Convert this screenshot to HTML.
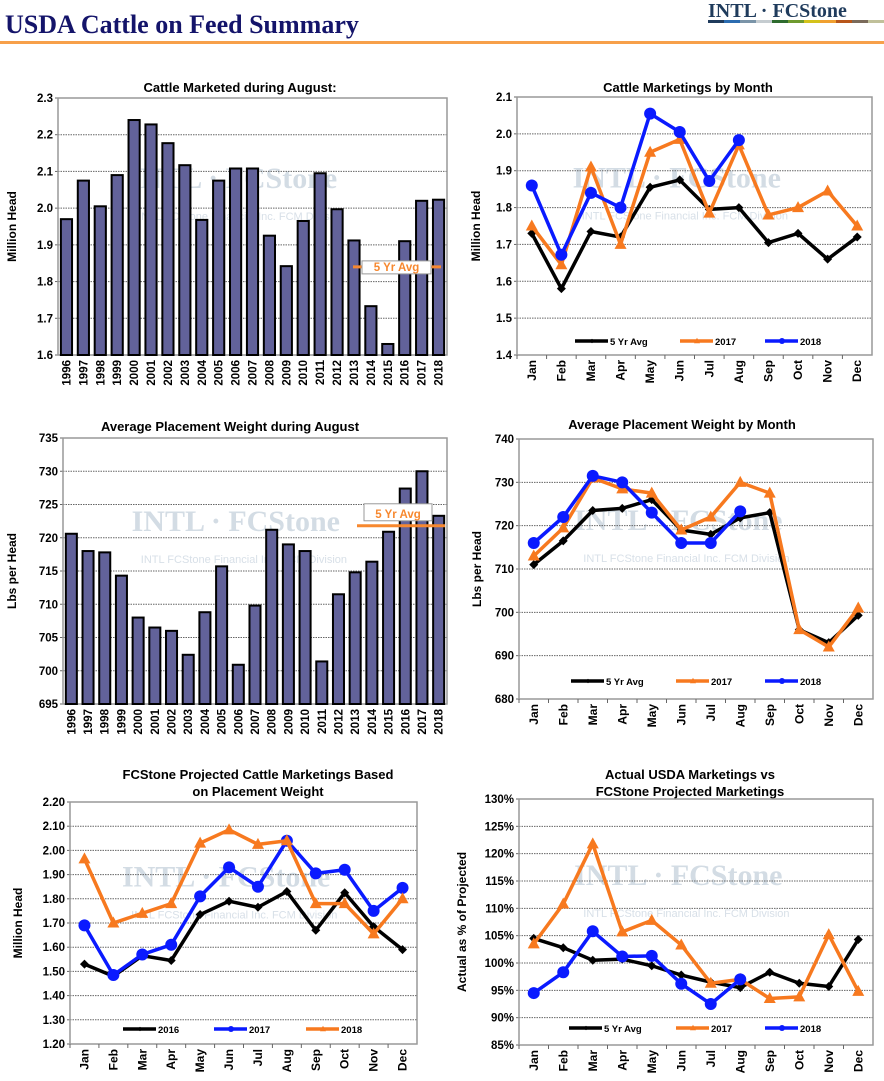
<!DOCTYPE html>
<html><head><meta charset="utf-8">
<style>
body{margin:0;background:#fff;width:884px;height:1076px;overflow:hidden;font-family:"Liberation Sans",Arial,sans-serif}
svg text{font-family:"Liberation Sans",Arial,sans-serif}
</style></head>
<body>
<svg id="s" width="884" height="1076" viewBox="0 0 884 1076" xmlns="http://www.w3.org/2000/svg">
<text x="5" y="33" font-weight="bold" font-size="26" fill="#14146a" style="font-family:'Liberation Serif',serif">USDA Cattle on Feed Summary</text>
<g>
<text x="708" y="17" font-weight="bold" font-size="20" fill="#1f3b5c" style="font-family:'Liberation Serif',serif">INTL · FCStone</text>
<rect x="708" y="20" width="16" height="3" fill="#1f3b5c"/><rect x="724" y="20" width="16" height="3" fill="#2b6cb0"/><rect x="740" y="20" width="16" height="3" fill="#7a94a8"/><rect x="756" y="20" width="16" height="3" fill="#c5ccd0"/><rect x="772" y="20" width="16" height="3" fill="#2e6b2e"/><rect x="788" y="20" width="16" height="3" fill="#6e9a2e"/><rect x="804" y="20" width="16" height="3" fill="#d4c21a"/><rect x="820" y="20" width="16" height="3" fill="#f0a030"/><rect x="836" y="20" width="16" height="3" fill="#b8561a"/><rect x="852" y="20" width="16" height="3" fill="#7a6a5a"/><rect x="868" y="20" width="16" height="3" fill="#c0c09a"/>
</g>
<rect x="0" y="41" width="884" height="3" fill="#f7a04a"/>
</svg>
<script>
const years=['1996','1997','1998','1999','2000','2001','2002','2003','2004','2005','2006','2007','2008','2009','2010','2011','2012','2013','2014','2015','2016','2017','2018'];
const months=['Jan','Feb','Mar','Apr','May','Jun','Jul','Aug','Sep','Oct','Nov','Dec'];
const augMarketed=[1.97,2.075,2.005,2.09,2.24,2.228,2.177,2.117,1.968,2.075,2.108,2.108,1.925,1.842,1.965,2.095,1.997,1.912,1.733,1.63,1.91,2.02,2.023];
const augMarketedAvg=1.84;
const mktAvg5=[1.73,1.58,1.735,1.72,1.855,1.875,1.795,1.80,1.705,1.73,1.66,1.72];
const mkt2017=[1.75,1.645,1.91,1.70,1.95,1.985,1.785,1.97,1.78,1.80,1.845,1.75];
const mkt2018=[1.86,1.672,1.84,1.80,2.055,2.005,1.872,1.983];
const augWeight=[720.6,718,717.8,714.3,708,706.5,706,702.4,708.8,715.7,700.9,709.8,721.2,719,718,701.4,711.5,714.8,716.4,720.9,727.4,730,723.3];
const augWeightAvg=721.8;
const wtAvg5=[711,716.5,723.5,724,726,719,718,721.8,723,696,693,699.3];
const wt2017=[713,719.5,731,728.5,727.5,719,722,730,727.5,696,692,701];
const wt2018=[716,722,731.5,730,723,716,716,723.3];
const proj2016=[1.53,1.48,1.565,1.545,1.735,1.79,1.765,1.83,1.67,1.825,1.685,1.59];
const proj2017=[1.69,1.485,1.57,1.61,1.81,1.93,1.85,2.04,1.905,1.92,1.75,1.845];
const proj2018=[1.965,1.70,1.74,1.78,2.03,2.085,2.025,2.04,1.78,1.78,1.655,1.80];
const pctAvg5=[104.5,102.8,100.5,100.7,99.5,97.8,96.5,95.5,98.3,96.3,95.7,104.3];
const pct2017=[103.5,110.8,121.8,105.7,107.8,103.3,96.3,97,93.5,93.8,105.2,94.8];
const pct2018=[94.5,98.3,105.8,101.2,101.3,96.2,92.5,97];

const NS='http://www.w3.org/2000/svg';
const svg=document.getElementById('s');
function el(tag,attrs,parent,txt){const e=document.createElementNS(NS,tag);for(const k in attrs)e.setAttribute(k,attrs[k]);if(txt!==undefined)e.textContent=txt;(parent||svg).appendChild(e);return e;}

function frame(c,name){
  const g=el('g',{});
  
  
  const ys=v=>c.y1-(v-c.min)/(c.max-c.min)*(c.y1-c.y0);
  const wx=c.x0+(c.x1-c.x0)*0.45,wy=c.y0+(c.y1-c.y0)*0.35;
  const wm=el('text',{x:wx,y:wy,'font-size':30,'font-weight':'bold',fill:'#d3dce4','text-anchor':'middle',style:"font-family:'Liberation Serif',serif"},g,'INTL · FCStone');
  
  
  const wm2=el('text',{x:wx-95,y:wy+32,'font-size':11,fill:'#d8e0e8'},g,'INTL FCStone Financial Inc. FCM Division');
  
  
  const t=el('text',{'font-size':c.titleSize||13,'font-weight':'bold','text-anchor':'middle',fill:'#000'},g);
  
  
  c.title.forEach((ln,i)=>el('tspan',{x:c.tx,y:c.ty+i*17},t,ln));
  for(let v=c.min;v<=c.max+1e-9;v+=c.step){
    const y=ys(v);
    if(v>c.min+1e-9&&v<c.max-1e-9){
      const gl=el('line',{x1:c.x0,x2:c.x1,y1:y,y2:y,stroke:'#666','stroke-width':1,'stroke-dasharray':'1.5,1'},g);
      
      
    }
    const lb=el('text',{x:c.x0-5,y:y+4,'font-size':11.5,'font-weight':'bold','text-anchor':'end'},g,c.fmt(v));
    
    
    el('line',{x1:c.x0-3,x2:c.x0,y1:y,y2:y,stroke:'#666'},g);
  }
  const bd=el('rect',{x:c.x0,y:c.y0,width:c.x1-c.x0,height:c.y1-c.y0,fill:'none',stroke:'#999','stroke-width':1.5},g);
  
  
  const yt=el('text',{transform:`translate(${c.yx},${(c.y0+c.y1)/2}) rotate(-90)`,'font-size':12,'font-weight':'bold','text-anchor':'middle'},g,c.ytitle);
  
  
  const n=c.cats.length,w=(c.x1-c.x0)/n;
  c.cats.forEach((cat,i)=>{
    const cx=c.x0+w*(i+0.5);
    const xl=el('text',{transform:`translate(${cx+4},${c.y1+5}) rotate(-90)`,'font-size':c.catSize||11.5,'font-weight':'bold','text-anchor':'end'},g,cat);
    
    
    if(c.line) el('line',{x1:c.x0+w*i,x2:c.x0+w*i,y1:c.y1,y2:c.y1+4,stroke:'#666'},g);
  });
  return {g,ys,xs:i=>c.x0+w*(i+0.5),w};
}

function barChart(c,vals,avg,box,name){
  const f=frame(c,name);
  vals.forEach((v,i)=>{
    const bw=f.w*0.66,x=f.xs(i)-bw/2,y=f.ys(v);
    const b=el('rect',{x:x,y:y,width:bw,height:c.y1-y,fill:'#62629a',stroke:'#000','stroke-width':2},f.g);
    
    
  });
  const ay=f.ys(avg);
  const al=el('line',{x1:box.lx0,x2:box.lx1,y1:ay,y2:ay,stroke:'#f7882f','stroke-width':3},f.g);
  
  
  const by=ay+box.dy;
  el('rect',{x:box.bx,y:by,width:box.bw,height:box.bh,fill:'#fff',stroke:'#999'},f.g);
  const at=el('text',{x:box.bx+box.bw/2,y:by+box.bh-3,'font-size':11.5,'font-weight':'bold',fill:'#f7882f','text-anchor':'middle'},f.g,'5 Yr Avg');
  
  
}

const styles={black:{col:'#000',mk:'diamond'},orange:{col:'#f7791f',mk:'tri'},blue:{col:'#0a1aff',mk:'circle'}};
function marker(g,type,x,y,col){
  if(type==='diamond') return el('path',{d:`M${x} ${y-4.5}L${x+4.5} ${y}L${x} ${y+4.5}L${x-4.5} ${y}Z`,fill:col},g);
  if(type==='tri') return el('path',{d:`M${x} ${y-6.5}L${x+6} ${y+4.5}L${x-6} ${y+4.5}Z`,fill:col},g);
  return el('circle',{cx:x,cy:y,r:6,fill:col},g);
}
function lineChart(c,series,legY,name){
  c.line=true;
  const f=frame(c,name);
  series.forEach(s=>{
    const st=styles[s.style];
    const sg=el('g',{},f.g);
    
    
    const pts=s.vals.map((v,i)=>f.xs(i)+','+f.ys(v)).join(' ');
    el('polyline',{points:pts,fill:'none',stroke:st.col,'stroke-width':3.5,'stroke-linejoin':'round'},sg);
    s.vals.forEach((v,i)=>{
      const m=marker(sg,st.mk,f.xs(i),f.ys(v),st.col);
      
      
    });
  });
  series.forEach((s,k)=>{
    const st=styles[s.style];
    const lx=c.x0+c.legX[k];
    const lg=el('g',{},f.g);
    
    
    el('line',{x1:lx,x2:lx+33,y1:legY,y2:legY,stroke:st.col,'stroke-width':3.5},lg);
    marker(lg,st.mk,lx+17,legY,st.col).setAttribute('transform',`translate(${(lx+17)*0.5},${legY*0.5}) scale(0.5)`);
    el('text',{x:lx+35,y:legY+4,'font-size':9.5,'font-weight':'bold'},lg,s.label);
  });
}

barChart({x0:58,x1:447,y0:98,y1:355,min:1.6,max:2.3,step:0.1,fmt:v=>v.toFixed(1),cats:years,title:['Cattle Marketed during August:'],tx:240,ty:92,yx:16,ytitle:'Million Head'},
  augMarketed,augMarketedAvg,{lx0:353,lx1:441,bx:362,bw:69,bh:13,dy:-6},'chart-cattle-marketed-august');

lineChart({x0:517,x1:872,y0:97,y1:355,min:1.4,max:2.1,step:0.1,fmt:v=>v.toFixed(1),cats:months,title:['Cattle Marketings by Month'],tx:688,ty:92,yx:480,ytitle:'Million Head',legX:[58,163,248],catSize:12},
  [{label:'5 Yr Avg',vals:mktAvg5,style:'black'},{label:'2017',vals:mkt2017,style:'orange'},{label:'2018',vals:mkt2018,style:'blue'}],341,'chart-marketings-by-month');

barChart({x0:63,x1:447,y0:438,y1:704,min:695,max:735,step:5,fmt:v=>v.toFixed(0),cats:years,title:['Average Placement Weight during August'],tx:230,ty:431,yx:16,ytitle:'Lbs per Head'},
  augWeight,augWeightAvg,{lx0:357,lx1:445,bx:364,bw:68,bh:17,dy:-22},'chart-placement-weight-august');

lineChart({x0:519,x1:873,y0:439,y1:699,min:680,max:740,step:10,fmt:v=>v.toFixed(0),cats:months,title:['Average Placement Weight by Month'],tx:682,ty:429,yx:481,ytitle:'Lbs per Head',legX:[52,157,246],catSize:12},
  [{label:'5 Yr Avg',vals:wtAvg5,style:'black'},{label:'2017',vals:wt2017,style:'orange'},{label:'2018',vals:wt2018,style:'blue'}],681,'chart-placement-weight-by-month');

lineChart({x0:70,x1:417,y0:802,y1:1044,min:1.2,max:2.2,step:0.1,fmt:v=>v.toFixed(2),cats:months,title:['FCStone Projected Cattle Marketings Based','on Placement Weight'],tx:258,ty:779,yx:22,ytitle:'Million Head',legX:[53,144,236],catSize:12,titleSize:13},
  [{label:'2016',vals:proj2016,style:'black'},{label:'2017',vals:proj2017,style:'blue'},{label:'2018',vals:proj2018,style:'orange'}],1029,'chart-projected-marketings');

lineChart({x0:519,x1:873,y0:799,y1:1045,min:85,max:130,step:5,fmt:v=>v.toFixed(0)+'%',cats:months,title:['Actual USDA Marketings vs','FCStone Projected Marketings'],tx:690,ty:779,yx:466,ytitle:'Actual as % of Projected',legX:[50,157,246],catSize:12},
  [{label:'5 Yr Avg',vals:pctAvg5,style:'black'},{label:'2017',vals:pct2017,style:'orange'},{label:'2018',vals:pct2018,style:'blue'}],1028,'chart-actual-vs-projected');
</script>
</body></html>
